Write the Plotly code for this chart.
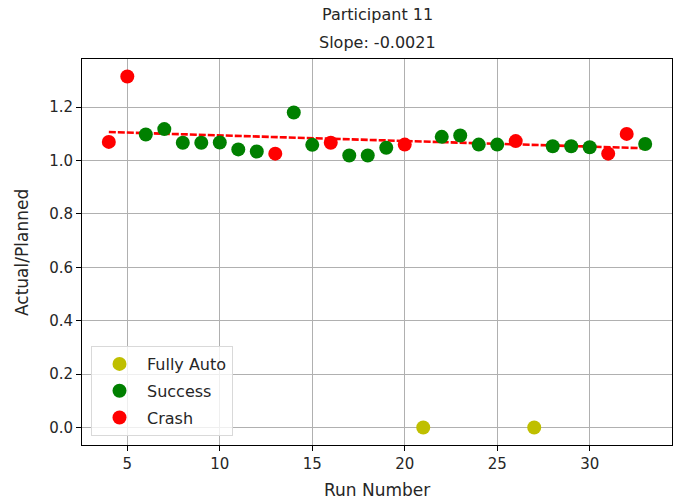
import numpy as np
import plotly.graph_objects as go

title_lines = ["Participant 11", "Slope: -0.0021"]
x_label = "Run Number"
y_label = "Actual/Planned"

auto_runs = [21, 27]
auto_vals = [0.0, 0.0]

success_runs = [6, 7, 8, 9, 10, 11, 12, 14, 15, 17, 18, 19, 22, 23, 24, 25, 28, 29, 30, 33]
success_vals = [1.098, 1.118, 1.067, 1.067, 1.068, 1.042, 1.034, 1.180, 1.059, 1.019, 1.019,
                1.048, 1.089, 1.094, 1.060, 1.060, 1.054, 1.054, 1.050, 1.062]

crash_runs = [4, 5, 13, 16, 20, 26, 31, 32]
crash_vals = [1.070, 1.315, 1.026, 1.067, 1.060, 1.073, 1.026, 1.100]

trend_slope = -0.0021
trend_intercept = 1.1155
trend_runs = [4, 33]

x_ticks = [5, 10, 15, 20, 25, 30]
y_ticks = [0.0, 0.2, 0.4, 0.6, 0.8, 1.0, 1.2]

FONT = "DejaVu Sans"
TXT = "#262626"
W, H = 679, 504
# plot area in page pixels
L, R, T, B = 82, 672, 59, 445

fig = go.Figure()

tx = np.array(trend_runs, dtype=float)
fig.add_trace(go.Scatter(x=tx, y=trend_intercept + trend_slope * tx, mode="lines",
                         line=dict(color="#ff0000", width=2.6, dash="7px,2px"),
                         showlegend=False, hoverinfo="skip"))
fig.add_trace(go.Scatter(x=auto_runs, y=auto_vals, mode="markers", name="Fully Auto",
                         legendgroup="a", marker=dict(color="#bfbf00", size=14)))
fig.add_trace(go.Scatter(x=success_runs, y=success_vals, mode="markers", name="Success",
                         legendgroup="b", marker=dict(color="#008000", size=14)))
fig.add_trace(go.Scatter(x=crash_runs, y=crash_vals, mode="markers", name="Crash",
                         legendgroup="c", marker=dict(color="#ff0000", size=14)))

all_x = auto_runs + success_runs + crash_runs
all_y = auto_vals + success_vals + crash_vals
xr = max(all_x) - min(all_x)
yr = max(all_y) - min(all_y)

axis_common = dict(showline=True, linecolor="black", linewidth=1, mirror=True,
                   ticks="outside", ticklen=5, tickcolor="black", automargin=False,
                   showgrid=True, gridcolor="#b0b0b0", gridwidth=1, zeroline=False,
                   tickfont=dict(family=FONT, size=15, color=TXT))

fig.update_xaxes(range=[min(all_x) - 0.05 * xr, max(all_x) + 0.05 * xr],
                 tickvals=x_ticks, ticktext=[str(v) for v in x_ticks], **axis_common)
fig.update_yaxes(range=[min(all_y) - 0.05 * yr, max(all_y) + 0.05 * yr],
                 tickvals=y_ticks, ticktext=[f"{v:.1f}" for v in y_ticks], **axis_common)


def px(xp):
    return (xp - L) / (R - L)


def py(yp):
    return (B - yp) / (B - T)


ann_list = []
for text, xp, yp, size in [(title_lines[0], (L + R) / 2, 14, 16),
                           (title_lines[1], (L + R) / 2, 42, 16),
                           (x_label, (L + R) / 2, 490, 17)]:
    ann_list.append(dict(text=text, xref="paper", yref="paper", x=px(xp), y=py(yp),
                         xanchor="center", yanchor="middle", showarrow=False,
                         font=dict(family=FONT, size=size, color=TXT)))
ann_list.append(dict(text=y_label, xref="paper", yref="paper",
                     x=px(22), y=0.5, textangle=-90,
                     xanchor="center", yanchor="middle", showarrow=False,
                     font=dict(family=FONT, size=17, color=TXT)))

fig.update_layout(
    width=W, height=H,
    margin=dict(l=L, r=W - R, t=T, b=H - B),
    paper_bgcolor="white", plot_bgcolor="white",
    annotations=ann_list,
    legend=dict(x=px(91), y=py(436), xanchor="left", yanchor="bottom",
                bgcolor="rgba(255,255,255,0.8)", bordercolor="#d9d9d9", borderwidth=1,
                traceorder="grouped", tracegroupgap=3,
                font=dict(family=FONT, size=16, color=TXT), itemwidth=45),
    showlegend=True,
    hovermode=False,
)

fig.write_html("out.html", config={"displayModeBar": False},
               post_script="document.body.style.margin='0px';document.body.style.overflow='hidden';")
